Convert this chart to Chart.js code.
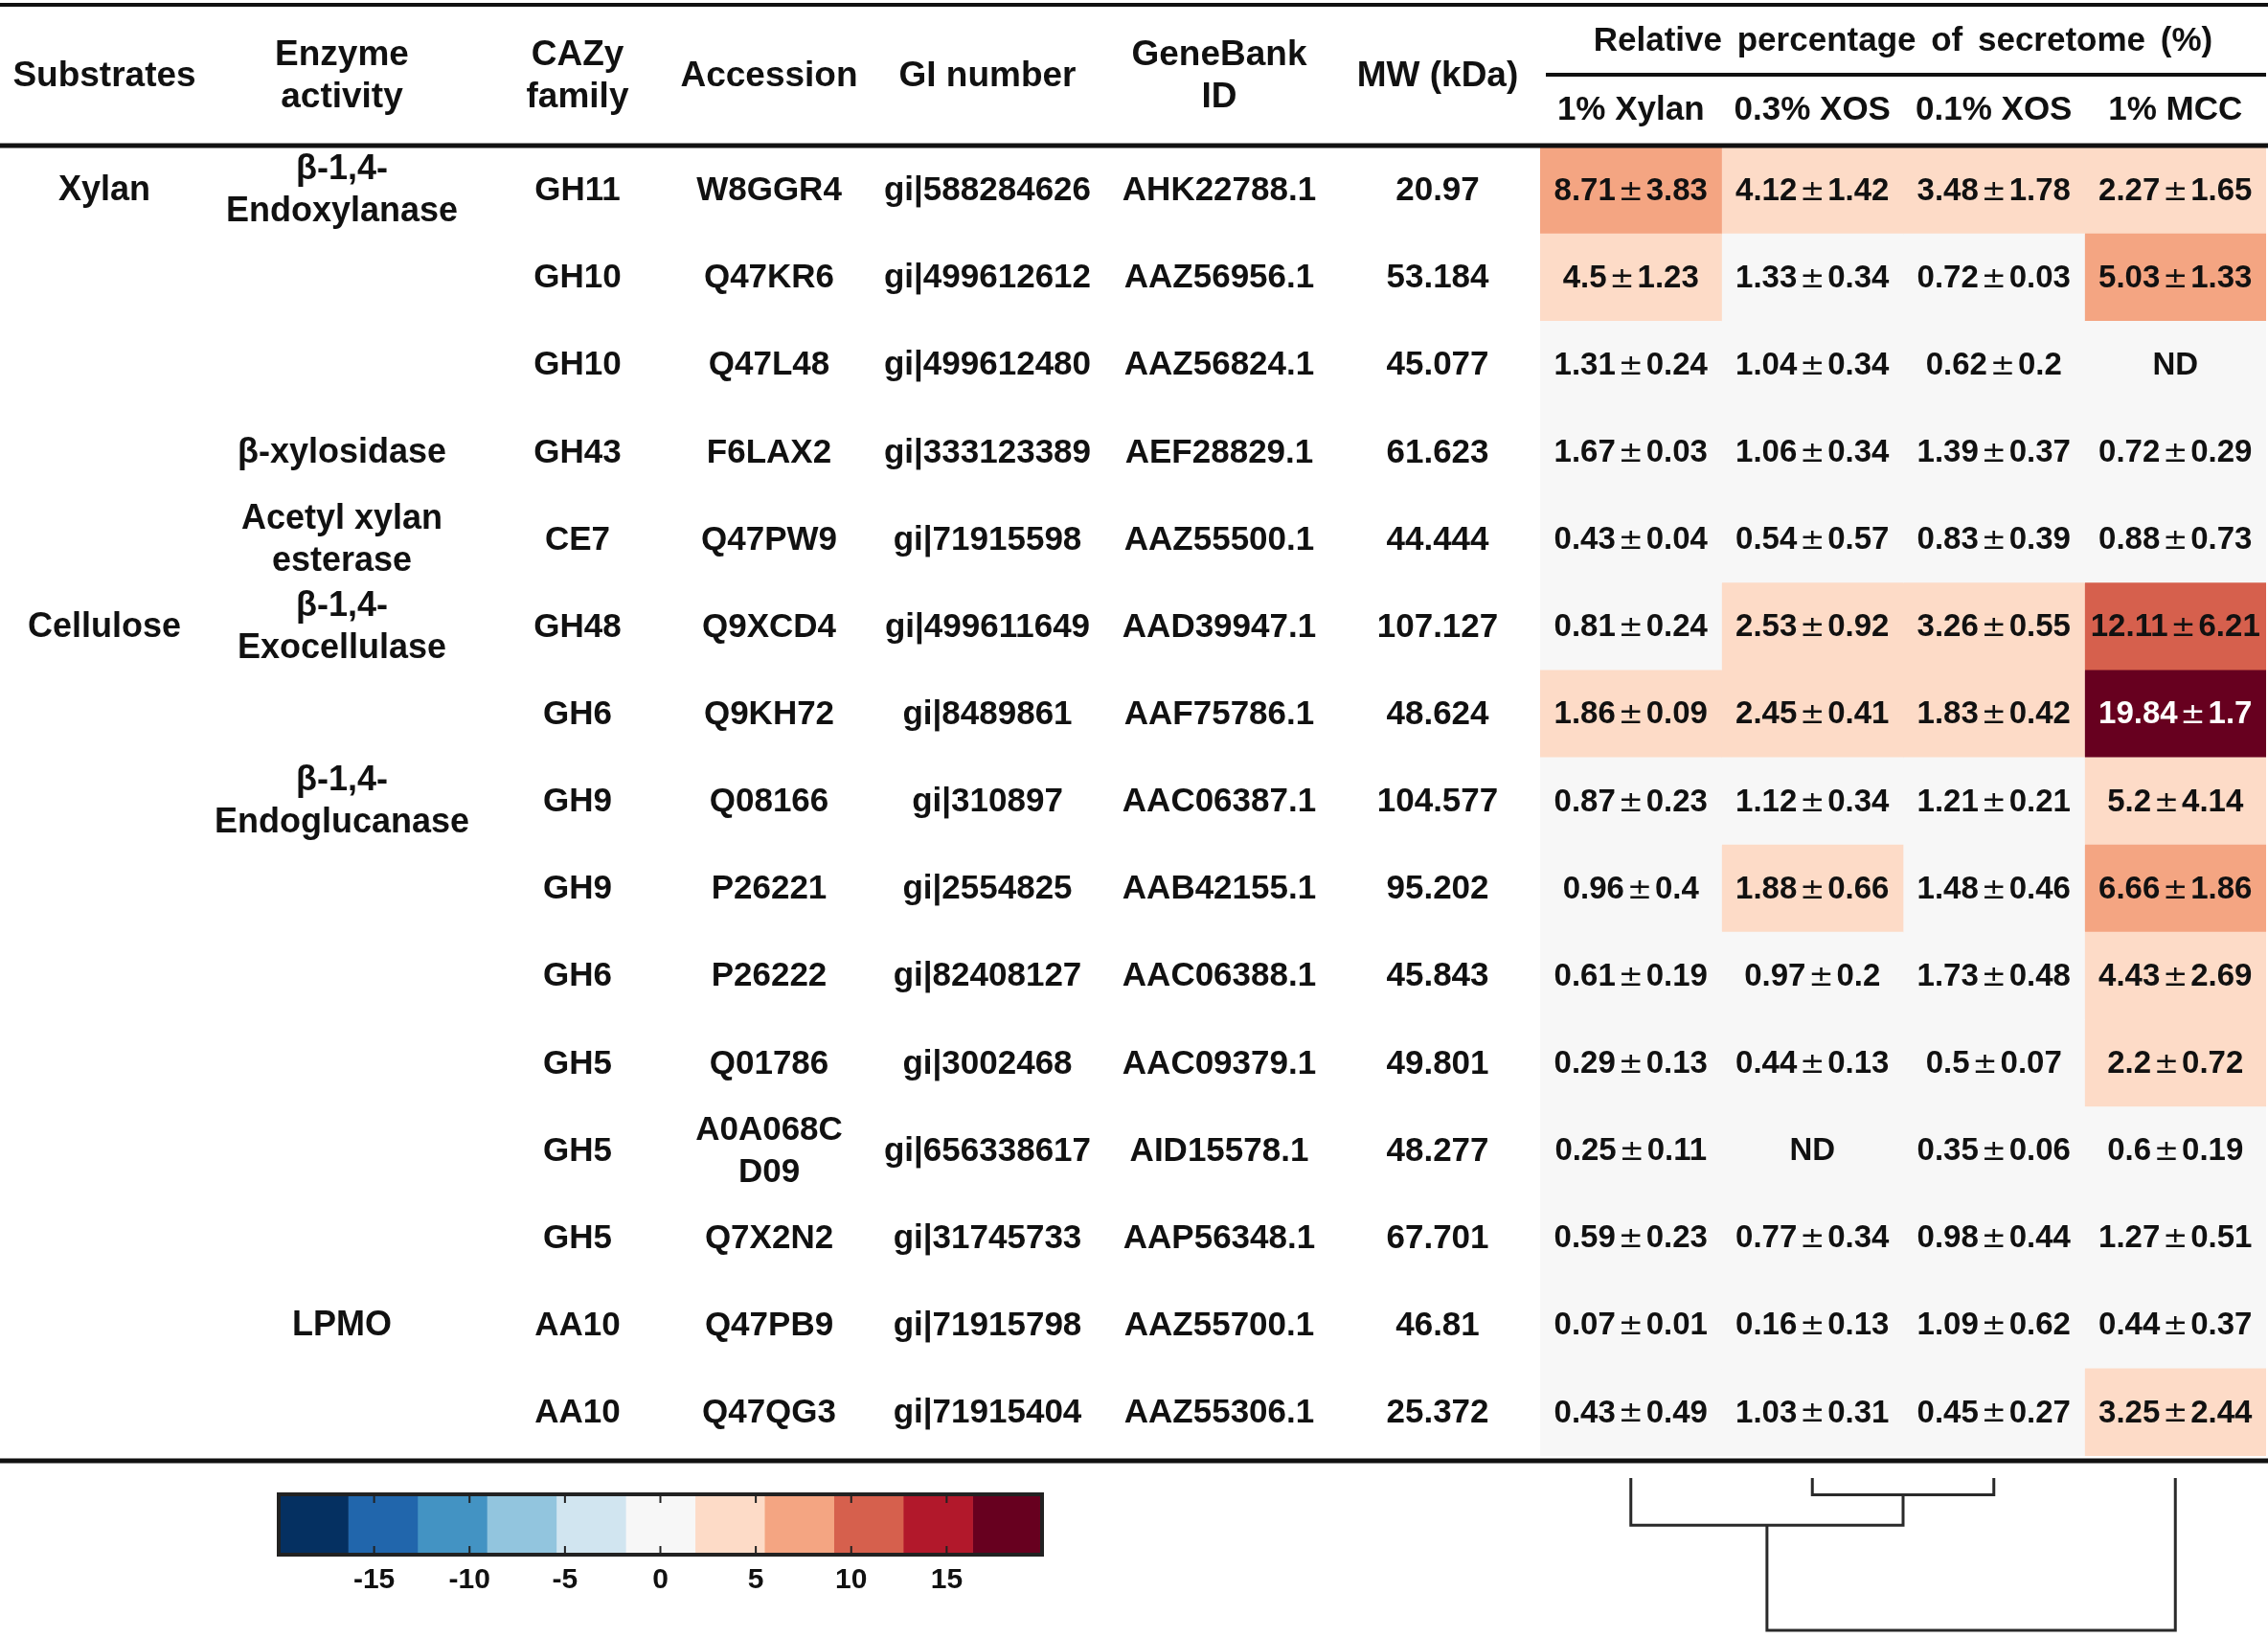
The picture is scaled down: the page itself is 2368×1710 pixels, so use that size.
<!DOCTYPE html>
<html>
<head>
<meta charset="utf-8">
<script src="https://cdn.jsdelivr.net/npm/chart.js@4.4.1/dist/chart.umd.min.js"></script>
<style>
  html, body { margin: 0; padding: 0; background: #fff; }
  #wrap { position: relative; width: 2368px; height: 1710px; }
  #wrap canvas { position: absolute; left: 0; top: 0; }
</style>
</head>
<body>
<div id="wrap">
  <canvas id="heat" width="2368" height="1710"></canvas>
  <canvas id="colorbar" width="2368" height="1710"></canvas>
  <canvas id="dendro" width="2368" height="1710"></canvas>
</div>
<script>
// Secretome table with heatmap of relative percentages, colour key and condition dendrogram.

const conditions = ['1% Xylan', '0.3% XOS', '0.1% XOS', '1% MCC'];

const substrateGroups = [
  { label: 'Xylan', row: 0 },
  { label: 'Cellulose', row: 5 },
];
const activityGroups = [
  { lines: ['β-1,4-', 'Endoxylanase'], row: 0 },
  { lines: ['β-xylosidase'], row: 3 },
  { lines: ['Acetyl xylan', 'esterase'], row: 4 },
  { lines: ['β-1,4-', 'Exocellulase'], row: 5 },
  { lines: ['β-1,4-', 'Endoglucanase'], row: 7 },
  { lines: ['LPMO'], row: 13 },
];

const cazyFamily = ['GH11', 'GH10', 'GH10', 'GH43', 'CE7', 'GH48', 'GH6', 'GH9', 'GH9', 'GH6', 'GH5', 'GH5', 'GH5', 'AA10', 'AA10'];
const accession = ['W8GGR4', 'Q47KR6', 'Q47L48', 'F6LAX2', 'Q47PW9', 'Q9XCD4', 'Q9KH72', 'Q08166', 'P26221', 'P26222', 'Q01786', 'A0A068C\nD09', 'Q7X2N2', 'Q47PB9', 'Q47QG3'];
const giNumber = ['gi|588284626', 'gi|499612612', 'gi|499612480', 'gi|333123389', 'gi|71915598', 'gi|499611649', 'gi|8489861', 'gi|310897', 'gi|2554825', 'gi|82408127', 'gi|3002468', 'gi|656338617', 'gi|31745733', 'gi|71915798', 'gi|71915404'];
const genebankId = ['AHK22788.1', 'AAZ56956.1', 'AAZ56824.1', 'AEF28829.1', 'AAZ55500.1', 'AAD39947.1', 'AAF75786.1', 'AAC06387.1', 'AAB42155.1', 'AAC06388.1', 'AAC09379.1', 'AID15578.1', 'AAP56348.1', 'AAZ55700.1', 'AAZ55306.1'];
const mwKda = ['20.97', '53.184', '45.077', '61.623', '44.444', '107.127', '48.624', '104.577', '95.202', '45.843', '49.801', '48.277', '67.701', '46.81', '25.372'];

// mean / sd per condition, null = ND
const xylanMean = [8.71, 4.5, 1.31, 1.67, 0.43, 0.81, 1.86, 0.87, 0.96, 0.61, 0.29, 0.25, 0.59, 0.07, 0.43];
const xylanSd = [3.83, 1.23, 0.24, 0.03, 0.04, 0.24, 0.09, 0.23, 0.4, 0.19, 0.13, 0.11, 0.23, 0.01, 0.49];
const xos03Mean = [4.12, 1.33, 1.04, 1.06, 0.54, 2.53, 2.45, 1.12, 1.88, 0.97, 0.44, null, 0.77, 0.16, 1.03];
const xos03Sd = [1.42, 0.34, 0.34, 0.34, 0.57, 0.92, 0.41, 0.34, 0.66, 0.2, 0.13, null, 0.34, 0.13, 0.31];
const xos01Mean = [3.48, 0.72, 0.62, 1.39, 0.83, 3.26, 1.83, 1.21, 1.48, 1.73, 0.5, 0.35, 0.98, 1.09, 0.45];
const xos01Sd = [1.78, 0.03, 0.2, 0.37, 0.39, 0.55, 0.42, 0.21, 0.46, 0.48, 0.07, 0.06, 0.44, 0.62, 0.27];
const mccMean = [2.27, 5.03, null, 0.72, 0.88, 12.11, 19.84, 5.2, 6.66, 4.43, 2.2, 0.6, 1.27, 0.44, 3.25];
const mccSd = [1.65, 1.33, null, 0.29, 0.73, 6.21, 1.7, 4.14, 1.86, 2.69, 0.72, 0.19, 0.51, 0.37, 2.44];

const means = [xylanMean, xos03Mean, xos01Mean, mccMean];
const sds = [xylanSd, xos03Sd, xos01Sd, mccSd];

// colour key
const rdbu = ['#053061', '#2166ac', '#4393c3', '#92c5de', '#d1e5f0', '#f7f7f7', '#fddbc7', '#f4a582', '#d6604d', '#b2182b', '#67001f'];
const keyMin = -20;
const keyMax = 20;
const keyTicks = [-15, -10, -5, 0, 5, 10, 15];
// the GH10 / 1% MCC cell is one shade darker in the figure than its mean says
const shadeOverrides = { '1,3': 7 };

// condition clustering: leaves are condition indexes, 'mN' is merge N
const merges = [
  { a: 1, b: 2, h: 0.11 },
  { a: 0, b: 'm0', h: 0.31 },
  { a: 'm1', b: 3, h: 1.0 },
];

const FONT = '"Liberation Sans", Arial, sans-serif';
const rowIds = cazyFamily.map((_, i) => i);

function binOf(v) {
  const i = Math.floor(((v - keyMin) / (keyMax - keyMin)) * rdbu.length);
  return Math.max(0, Math.min(rdbu.length - 1, i));
}

function cellBin(r, c) {
  const key = `${r},${c}`;
  if (key in shadeOverrides) return shadeOverrides[key];
  return binOf(means[c][r] ?? 0);
}

function text(ctx, str, x, y, size, color = '#111') {
  ctx.font = `bold ${size}px ${FONT}`;
  ctx.fillStyle = color;
  ctx.textAlign = 'center';
  ctx.textBaseline = 'middle';
  ctx.fillText(str, x, y);
}

function lines(ctx, arr, x, y, size, gap) {
  const top = y - ((arr.length - 1) * gap) / 2;
  arr.forEach((s, i) => text(ctx, s, x, top + i * gap, size));
}

// "mean ± sd" with the thin, wide ± of the original figure
function meanSd(ctx, m, s, x, y, color) {
  const bold = `bold 33px ${FONT}`;
  const thin = '31px "DejaVu Sans", sans-serif';
  const pad = 3;
  const a = String(m);
  const b = String(s);
  ctx.font = bold;
  const wa = ctx.measureText(a).width;
  const wb = ctx.measureText(b).width;
  ctx.font = thin;
  const wp = ctx.measureText('±').width + pad * 2;
  let left = x - (wa + wp + wb) / 2;
  ctx.fillStyle = color;
  ctx.textAlign = 'left';
  ctx.textBaseline = 'middle';
  ctx.font = bold;
  ctx.fillText(a, left, y);
  left += wa;
  ctx.font = thin;
  ctx.fillText('±', left + pad, y + 1);
  left += wp;
  ctx.font = bold;
  ctx.fillText(b, left, y);
}

function rule(ctx, x1, x2, y, w) {
  ctx.beginPath();
  ctx.strokeStyle = '#111';
  ctx.lineWidth = w;
  ctx.moveTo(x1, y);
  ctx.lineTo(x2, y);
  ctx.stroke();
}

const COL_X = { substrate: 109, activity: 357, cazy: 603, accession: 803, gi: 1031, genebank: 1273, mw: 1501 };

const tablePlugin = {
  id: 'secretomeTable',
  afterDatasetsDraw(chart) {
    const { ctx, chartArea, scales } = chart;
    const rowY = (r) => scales.y.getPixelForValue(r) + 1;
    const colX = (c) => scales.x.getPixelForValue(c + 0.5);
    ctx.save();

    // header
    text(ctx, 'Substrates', COL_X.substrate, 80, 37);
    lines(ctx, ['Enzyme', 'activity'], COL_X.activity, 80, 37, 44);
    lines(ctx, ['CAZy', 'family'], COL_X.cazy, 80, 37, 44);
    text(ctx, 'Accession', COL_X.accession, 80, 37);
    text(ctx, 'GI number', COL_X.gi, 80, 37);
    lines(ctx, ['GeneBank', 'ID'], COL_X.genebank, 80, 37, 44);
    text(ctx, 'MW (kDa)', COL_X.mw, 80, 37);
    ctx.save();
    ctx.font = `bold 35px ${FONT}`;
    ctx.wordSpacing = '6px';
    ctx.fillStyle = '#111';
    ctx.textAlign = 'center';
    ctx.textBaseline = 'middle';
    ctx.fillText('Relative percentage of secretome (%)', (chartArea.left + chartArea.right) / 2, 43);
    ctx.restore();
    conditions.forEach((name, c) => text(ctx, name, colX(c), 115, 35));

    rule(ctx, 0, 2368, 5, 4);
    rule(ctx, chartArea.left + 6, chartArea.right, 78, 4);
    rule(ctx, 0, 2368, 152, 5);
    rule(ctx, 0, 2368, 1525, 5);

    // row labels
    substrateGroups.forEach((g) => text(ctx, g.label, COL_X.substrate, rowY(g.row), 36));
    activityGroups.forEach((g) => lines(ctx, g.lines, COL_X.activity, rowY(g.row), 36, 44));
    rowIds.forEach((r) => {
      const y = rowY(r);
      text(ctx, cazyFamily[r], COL_X.cazy, y, 35);
      lines(ctx, accession[r].split('\n'), COL_X.accession, y, 35, 44);
      text(ctx, giNumber[r], COL_X.gi, y, 35);
      text(ctx, genebankId[r], COL_X.genebank, y, 35);
      text(ctx, mwKda[r], COL_X.mw, y, 35);
      conditions.forEach((_, c) => {
        const m = means[c][r];
        const color = cellBin(r, c) >= 9 ? '#fff' : '#111';
        if (m == null) text(ctx, 'ND', colX(c), y, 33, color);
        else meanSd(ctx, m, sds[c][r], colX(c), y, color);
      });
    });
    ctx.restore();
  },
};

new Chart(document.getElementById('heat'), {
  type: 'bar',
  data: {
    labels: rowIds,
    datasets: conditions.map((name, c) => ({
      label: name,
      data: rowIds.map(() => [c, c + 1]),
      backgroundColor: rowIds.map((r) => rdbu[cellBin(r, c)]),
      borderWidth: 0,
      grouped: false,
      categoryPercentage: 1,
      barPercentage: 1,
    })),
  },
  options: {
    indexAxis: 'y',
    responsive: false,
    devicePixelRatio: 1,
    animation: false,
    events: [],
    layout: { padding: { left: 1608, right: 2, top: 153, bottom: 190 } },
    scales: {
      x: { type: 'linear', min: 0, max: conditions.length, display: false },
      y: { type: 'category', display: false },
    },
    plugins: { legend: { display: false }, tooltip: { enabled: false } },
  },
  plugins: [tablePlugin],
});

// colour key
const keyStep = (keyMax - keyMin) / rdbu.length;
const keyPlugin = {
  id: 'keyFrame',
  afterDatasetsDraw(chart) {
    const { ctx, chartArea, scales } = chart;
    ctx.save();
    ctx.strokeStyle = '#222';
    ctx.lineWidth = 4;
    ctx.strokeRect(chartArea.left, chartArea.top, chartArea.right - chartArea.left, chartArea.bottom - chartArea.top);
    ctx.lineWidth = 2;
    keyTicks.forEach((t) => {
      const x = scales.x.getPixelForValue(t);
      ctx.beginPath();
      ctx.moveTo(x, chartArea.top);
      ctx.lineTo(x, chartArea.top + 9);
      ctx.moveTo(x, chartArea.bottom - 9);
      ctx.lineTo(x, chartArea.bottom);
      ctx.stroke();
      text(ctx, String(t), x, chartArea.bottom + 27, 30);
    });
    ctx.restore();
  },
};

new Chart(document.getElementById('colorbar'), {
  type: 'bar',
  data: {
    labels: [''],
    datasets: rdbu.map((col, i) => ({
      data: [[keyMin + i * keyStep, keyMin + (i + 1) * keyStep]],
      backgroundColor: col,
      borderWidth: 0,
      grouped: false,
      categoryPercentage: 1,
      barPercentage: 1,
    })),
  },
  options: {
    indexAxis: 'y',
    responsive: false,
    devicePixelRatio: 1,
    animation: false,
    events: [],
    layout: { padding: { left: 291, right: 1280, top: 1560, bottom: 87 } },
    scales: {
      x: { type: 'linear', min: keyMin, max: keyMax, display: false },
      y: { type: 'category', display: false },
    },
    plugins: { legend: { display: false }, tooltip: { enabled: false } },
  },
  plugins: [keyPlugin],
});

// dendrogram links built from the merge list
function nodePos(n) {
  if (typeof n === 'number') return { x: n, h: 0 };
  const m = merges[Number(n.slice(1))];
  return { x: (nodePos(m.a).x + nodePos(m.b).x) / 2, h: m.h };
}
const linkSets = merges.map((m) => {
  const a = nodePos(m.a);
  const b = nodePos(m.b);
  return {
    data: [{ x: a.x, y: a.h }, { x: a.x, y: m.h }, { x: b.x, y: m.h }, { x: b.x, y: b.h }],
    showLine: true,
    borderColor: '#2a2a2a',
    borderWidth: 3,
    pointRadius: 0,
    tension: 0,
    fill: false,
    clip: false,
  };
});

new Chart(document.getElementById('dendro'), {
  type: 'scatter',
  data: { datasets: linkSets },
  options: {
    responsive: false,
    devicePixelRatio: 1,
    animation: false,
    events: [],
    layout: { padding: { left: 1608, right: 2, top: 1543, bottom: 8 } },
    scales: {
      x: { type: 'linear', min: -0.5, max: conditions.length - 0.5, display: false },
      y: { type: 'linear', min: 0, max: 1, reverse: true, display: false },
    },
    plugins: { legend: { display: false }, tooltip: { enabled: false } },
  },
});
</script>
</body>
</html>
